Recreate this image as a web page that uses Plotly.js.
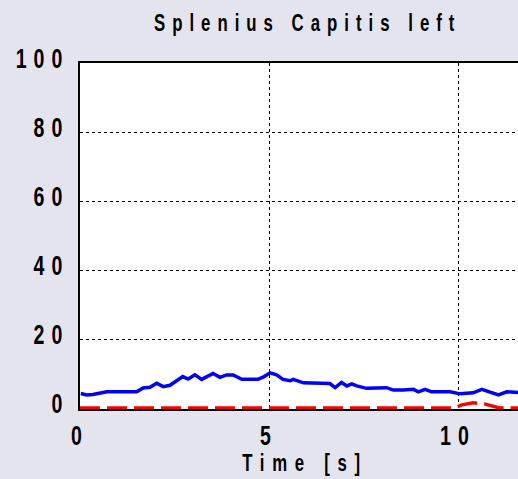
<!DOCTYPE html>
<html>
<head>
<meta charset="utf-8">
<script src="https://cdn.plot.ly/plotly-3.0.1.min.js"></script>
<style>
  body { margin: 0; background: #e4e4ee; }
  #chart .gtitle { letter-spacing: 10px; }
  #chart .g-xtitle text { letter-spacing: 11px; }
  #chart .xtick text, #chart .ytick text { letter-spacing: 10px; }
</style>
</head>
<body>
<div id="chart" style="width:518px;height:479px;"></div>
<script>
// blue series
const blueTime = [0.02, 0.18, 0.34, 0.53, 0.71, 1.50, 1.67, 1.85, 2.03, 2.20, 2.38, 2.72, 2.86, 3.04, 3.22,
  3.52, 3.70, 3.88, 4.05, 4.28, 4.71, 4.87, 5.03, 5.20, 5.37, 5.56, 5.64, 5.91, 6.61, 6.75, 6.92, 7.06,
  7.19, 7.32, 7.58, 8.11, 8.29, 8.55, 8.82, 8.95, 9.13, 9.30, 9.79, 10.05, 10.40, 10.63, 10.85, 11.07,
  11.29, 11.55, 11.7];
const blueVal = [4.2, 3.8, 3.9, 4.4, 4.7, 4.7, 5.8, 6.0, 7.2, 6.2, 6.6, 9.1, 8.4, 9.6, 8.3,
  10.0, 8.9, 9.6, 9.6, 8.3, 8.3, 9.1, 10.2, 9.6, 8.3, 7.9, 8.3, 7.3, 7.1, 5.9, 7.4, 6.4,
  7.0, 6.4, 5.7, 5.9, 5.2, 5.2, 5.4, 4.7, 5.4, 4.7, 4.7, 4.1, 4.4, 5.4, 4.7, 3.8,
  4.7, 4.4, 4.4];

// red dashed series
const redTime = [0, 9.9, 10.1, 10.4, 10.7, 11.1, 11.7];
const redVal = [0, 0, 0.9, 1.5, 1.2, 0, 0];

const xTicks = [0, 5, 10];
const yTicks = [0, 20, 40, 60, 80, 100];

const font = { family: '"Liberation Sans", Arial, sans-serif', color: '#000', weight: 'bold' };
const squeeze = 0.7; // horizontal squeeze of the tall narrow lettering

const traces = [
  {
    x: blueTime, y: blueVal,
    type: 'scatter', mode: 'lines',
    line: { color: '#0000ff', width: 3.5 },
    hoverinfo: 'skip'
  },
  {
    x: redTime, y: redVal,
    type: 'scatter', mode: 'lines',
    line: { color: '#ff0000', width: 3.5, dash: '20px,7px' },
    hoverinfo: 'skip'
  }
];

const layout = {
  width: 518, height: 479,
  margin: { l: 80, r: 0, t: 63, b: 70 },
  paper_bgcolor: '#e4e4ee',
  plot_bgcolor: '#ffffff',
  showlegend: false,
  title: {
    text: 'Splenius Capitis left',
    font: Object.assign({}, font, { size: 24 }),
    x: 0.594, xanchor: 'center', y: 0.953, yanchor: 'middle'
  },
  xaxis: {
    range: [0, 11.587],
    tickvals: xTicks,
    ticktext: xTicks.map(String),
    tickfont: Object.assign({}, font, { size: 28 }),
    showline: true, linecolor: '#000', linewidth: 2, mirror: true,
    showgrid: true, gridcolor: '#000', griddash: 'dot', gridwidth: 1,
    zeroline: false, ticks: '', layer: 'below traces',
    title: { text: 'Time [s]', font: Object.assign({}, font, { size: 24 }), standoff: 10 }
  },
  yaxis: {
    range: [-0.29, 100],
    tickvals: yTicks,
    ticktext: yTicks.map(String),
    tickfont: Object.assign({}, font, { size: 28 }),
    showline: true, linecolor: '#000', linewidth: 2,
    showgrid: true, gridcolor: '#000', griddash: 'dot', gridwidth: 1,
    zeroline: false, ticks: '', ticklabelstandoff: 9, layer: 'below traces'
  }
};

Plotly.newPlot('chart', traces, layout, { staticPlot: true }).then(gd => {
  // squeeze every text horizontally about its own anchor point
  gd.querySelectorAll('svg text').forEach(t => {
    const ax = parseFloat(t.getAttribute('x')) || 0;
    let extra = '';
    if (t.closest('.ytick')) extra = ' translate(6,-5)';
    if (t.closest('.g-xtitle')) extra = ' translate(6,-3)';
    t.setAttribute('transform', (t.getAttribute('transform') || '') + extra +
      ` translate(${ax},0) scale(${squeeze},1) translate(${-ax},0)`);
  });
});
</script>
</body>
</html>
